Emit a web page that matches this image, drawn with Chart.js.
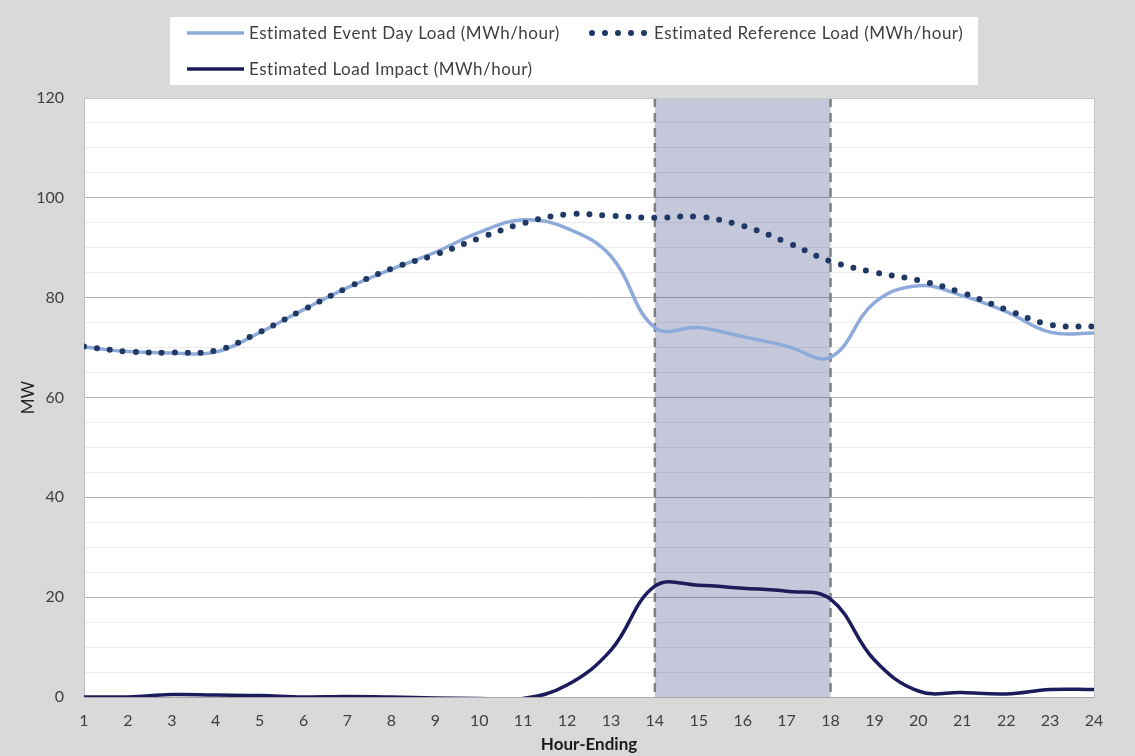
<!DOCTYPE html>
<html>
<head>
<meta charset="utf-8">
<script src="https://cdn.jsdelivr.net/npm/chart.js@4.4.1/dist/chart.umd.min.js"></script>
<style>
  html, body { margin: 0; padding: 0; background: #d9d9d9; }
  #wrap { width: 1135px; height: 756px; position: relative; }
</style>
</head>
<body>
<div id="wrap"><canvas id="c" width="1135" height="756"></canvas></div>
<script>
// Hour-ending categories
const hours = [1, 2, 3, 4, 5, 6, 7, 8, 9, 10, 11, 12, 13, 14, 15, 16, 17, 18, 19, 20, 21, 22, 23, 24];

// Load values (MWh/hour) per hour-ending
const eventDayLoad = [70.1, 69.2, 68.9, 69.1, 73.0, 77.6, 82.0, 85.7, 89.1, 93.1, 95.6, 93.9, 88.3, 74.0, 74.0, 72.2, 70.3, 68.1, 79.0, 82.4, 80.4, 77.2, 73.1, 72.9];
const referenceLoad = [70.2, 69.2, 69.0, 69.4, 73.1, 77.6, 82.0, 85.8, 88.6, 91.9, 94.9, 96.7, 96.4, 96.0, 96.2, 94.4, 91.1, 87.3, 85.1, 83.5, 81.0, 77.6, 74.6, 74.2];
const loadImpact = [0.0, 0.0, 0.5, 0.4, 0.3, 0.0, 0.1, 0.0, -0.2, -0.3, -0.3, 2.4, 9.4, 22.2, 22.4, 21.8, 21.2, 19.6, 7.4, 1.2, 0.9, 0.6, 1.5, 1.5];

// Event window (hour-ending)
const eventStart = 14;
const eventEnd = 18;

const yTicks = [0, 20, 40, 60, 80, 100, 120];

const seriesLabels = [
  'Estimated Event Day Load (MWh/hour)',
  'Estimated Reference Load (MWh/hour)',
  'Estimated Load Impact (MWh/hour)'
];

const FONT = 'Lato, "Liberation Sans", sans-serif';
const TEXT = '#404040';
const C_EVENT = '#8eaadb';
const C_REF = '#1f3864';
const C_IMPACT = '#1c1c5c';

const pts = (arr) => hours.map((h, i) => ({ x: h, y: arr[i] }));

// Gray page + white plot area
const backdrop = {
  id: 'backdrop',
  beforeDraw(chart) {
    const { ctx, chartArea: a } = chart;
    ctx.save();
    ctx.fillStyle = '#d9d9d9';
    ctx.fillRect(0, 0, chart.width, chart.height);
    ctx.fillStyle = '#ffffff';
    ctx.fillRect(a.left, a.top, a.right - a.left, a.bottom - a.top);
    ctx.restore();
  },
  afterDraw(chart) {
    const { ctx, chartArea: a } = chart;
    ctx.save();
    ctx.strokeStyle = '#c8c8c8';
    ctx.lineWidth = 1;
    ctx.beginPath();
    ctx.moveTo(a.left, a.top + 0.5);
    ctx.lineTo(a.right + 0.5, a.top + 0.5);
    ctx.lineTo(a.right + 0.5, a.bottom);
    ctx.stroke();
    ctx.restore();
  }
};

// Shaded event window with dashed edges
const eventWindow = {
  id: 'eventWindow',
  beforeDatasetsDraw(chart) {
    const { ctx, chartArea: a, scales: { x } } = chart;
    const x0 = x.getPixelForValue(eventStart);
    const x1 = x.getPixelForValue(eventEnd);
    ctx.save();
    ctx.fillStyle = 'rgba(32, 44, 113, 0.26)';
    ctx.fillRect(x0, a.top, x1 - x0, a.bottom - a.top);
    ctx.strokeStyle = '#7f7f7f';
    ctx.lineWidth = 2.5;
    ctx.setLineDash([9, 6]);
    [x0, x1].forEach((px) => {
      ctx.beginPath();
      ctx.moveTo(px, a.top);
      ctx.lineTo(px, a.bottom);
      ctx.stroke();
    });
    ctx.restore();
  }
};

// Legend box above the plot
const legendBox = {
  id: 'legendBox',
  afterDraw(chart) {
    const { ctx } = chart;
    const ds = chart.data.datasets;
    ctx.save();
    ctx.fillStyle = '#ffffff';
    ctx.fillRect(170, 17, 808, 68);
    ctx.font = '17px ' + FONT;
    ctx.letterSpacing = '0.5px';
    ctx.fillStyle = TEXT;
    ctx.textBaseline = 'middle';
    const items = [
      { d: ds[0], x: 187, y: 33 },
      { d: ds[1], x: 592, y: 33 },
      { d: ds[2], x: 187, y: 69 }
    ];
    items.forEach(({ d, x, y }) => {
      ctx.save();
      ctx.strokeStyle = d.borderColor;
      ctx.lineWidth = d.borderWidth;
      ctx.lineCap = d.borderCapStyle || 'butt';
      ctx.setLineDash(d.borderDash || []);
      ctx.beginPath();
      ctx.moveTo(x, y);
      ctx.lineTo(x + 57, y);
      ctx.stroke();
      ctx.restore();
      ctx.fillText(d.label, x + 62, y + 1);
    });
    ctx.restore();
  }
};

new Chart(document.getElementById('c'), {
  type: 'line',
  data: {
    datasets: [
      {
        label: seriesLabels[0],
        data: pts(eventDayLoad),
        borderColor: C_EVENT,
        borderWidth: 3.5,
        tension: 0.4,
        pointRadius: 0,
        order: 3
      },
      {
        label: seriesLabels[1],
        data: pts(referenceLoad),
        borderColor: C_REF,
        borderWidth: 6,
        borderDash: [0, 13],
        borderCapStyle: 'round',
        tension: 0.4,
        pointRadius: 0,
        order: 2
      },
      {
        label: seriesLabels[2],
        data: pts(loadImpact),
        borderColor: C_IMPACT,
        borderWidth: 3.5,
        tension: 0.4,
        pointRadius: 0,
        order: 1
      }
    ]
  },
  options: {
    responsive: false,
    animation: false,
    devicePixelRatio: 1,
    layout: { padding: { top: 98, right: 41, bottom: 0, left: 0 } },
    plugins: {
      legend: { display: false },
      tooltip: { enabled: false }
    },
    scales: {
      x: {
        type: 'linear',
        min: hours[0],
        max: hours[hours.length - 1],
        afterBuildTicks(s) { s.ticks = hours.map((h) => ({ value: h })); },
        afterFit(s) { s.height = 59; },
        grid: { display: false, drawTicks: false },
        border: { color: '#a6a6a6', width: 1 },
        ticks: { color: TEXT, font: { family: FONT, size: 16 }, padding: 14, maxRotation: 0, autoSkip: false },
        title: { display: true, text: 'Hour-Ending', color: '#1a1a1a', font: { family: FONT, size: 17, weight: 'bold' }, padding: { top: 0, bottom: 1 } }
      },
      y: {
        min: 0,
        max: 120,
        afterBuildTicks(s) {
          const t = [];
          for (let v = 0; v <= 120; v += 5) t.push({ value: v });
          s.ticks = t;
        },
        afterFit(s) { s.width = 84; },
        grid: {
          drawTicks: false,
          color: (c) => (c.tick && yTicks.includes(c.tick.value) ? '#b3b3b3' : '#ececec'),
          lineWidth: 1
        },
        border: { color: '#bfbfbf', width: 1 },
        ticks: {
          color: TEXT,
          font: { family: FONT, size: 16 },
          padding: 20,
          autoSkip: false,
          callback: (v) => (yTicks.includes(v) ? String(v) : '')
        },
        title: { display: true, text: 'MW', color: '#262626', font: { family: FONT, size: 17 }, padding: { top: 18, bottom: 0 } }
      }
    }
  },
  plugins: [backdrop, eventWindow, legendBox]
});
</script>
</body>
</html>
